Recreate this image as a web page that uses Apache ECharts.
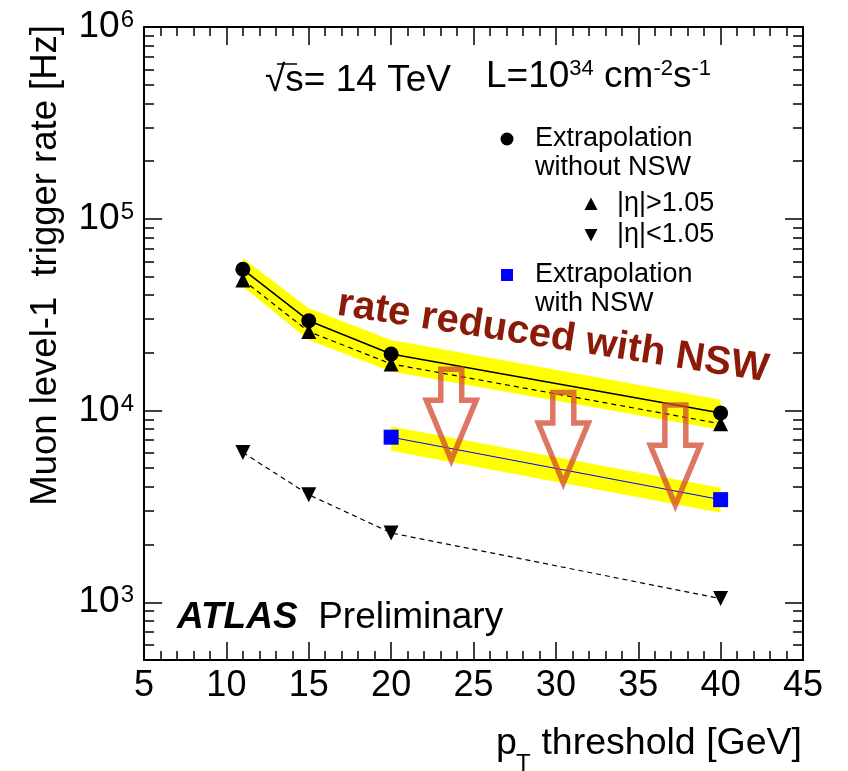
<!DOCTYPE html>
<html>
<head>
<meta charset="utf-8">
<script src="https://cdn.jsdelivr.net/npm/echarts@6/dist/echarts.min.js"></script>
<style>
  html, body { margin: 0; padding: 0; background: #fff; }
  #chart { width: 848px; height: 771px; }
</style>
</head>
<body>
<div id="chart"></div>
<script>
// pT thresholds [GeV]
const ptOld = [11, 15, 20, 40];
const ptNSW = [20, 40];
// L1 muon trigger rates [Hz]
const rateNoNSW = [54500, 29400, 19700, 9700];   // extrapolation without NSW
const rateFwd = [48000, 25800, 17500, 8530];     // |eta| > 1.05
const rateBarrel = [6040, 3640, 2300, 1045];     // |eta| < 1.05
const rateNSW = [7260, 3430];                    // extrapolation with NSW
// yellow uncertainty bands
const bandOldHi = [62200, 34100, 23300, 11380];
const bandOldLo = [44300, 23300, 15960, 7940];
const bandNSWHi = [8260, 3950];
const bandNSWLo = [6160, 2930];
// the three "reduced" arrows: pT position, top and tip of arrow
const arrowPt = [23.65, 30.45, 37.25];
const arrowTop = [16900, 12800, 11000];
const arrowTip = [5250, 3990, 3060];

const majorY = [1e3, 1e4, 1e5, 1e6];
const minorY = [600, 700, 800, 900, 2e3, 3e3, 4e3, 5e3, 6e3, 7e3, 8e3, 9e3,
  2e4, 3e4, 4e4, 5e4, 6e4, 7e4, 8e4, 9e4, 2e5, 3e5, 4e5, 5e5, 6e5, 7e5, 8e5, 9e5];

const FONT = '"Liberation Sans", Arial, Helvetica, sans-serif';

const chart = echarts.init(document.getElementById('chart'));

function bandSeries(xs, hi, lo) {
  return {
    type: 'custom',
    z: 1,
    silent: true,
    data: [[xs[0], hi[0]]],
    renderItem: function (params, api) {
      const pts = [];
      xs.forEach((x, i) => pts.push(api.coord([x, hi[i]])));
      for (let i = xs.length - 1; i >= 0; i--) pts.push(api.coord([xs[i], lo[i]]));
      return { type: 'polygon', shape: { points: pts }, style: { fill: '#ffff00' } };
    }
  };
}

function xAxisCfg(pos, labels) {
  return {
    type: 'value', min: 5, max: 45, interval: 5, position: pos,
    axisLine: { show: true, onZero: false, lineStyle: { color: '#000', width: 2 } },
    axisTick: { show: true, inside: true, length: 18, lineStyle: { color: '#000', width: 1.5 } },
    minorTick: { show: true, splitNumber: 5, length: 9, lineStyle: { color: '#000', width: 1.5 } },
    splitLine: { show: false },
    axisLabel: { show: labels, fontSize: 36, color: '#000', fontFamily: FONT, margin: 8 }
  };
}

function yAxisCfg(pos, ticks, len, labels) {
  return {
    type: 'log', logBase: 10, min: 500, max: 1e6, position: pos,
    axisLine: { show: true, onZero: false, lineStyle: { color: '#000', width: 2 } },
    axisTick: { show: true, inside: true, length: len, customValues: ticks,
      lineStyle: { color: '#000', width: 1.5 } },
    splitLine: { show: false },
    axisLabel: {
      show: labels, customValues: ticks, margin: 10, color: '#000',
      formatter: v => '{m|10}{e|' + Math.round(Math.log10(v)) + '}',
      rich: {
        m: { fontSize: 37, fontFamily: FONT, color: '#000' },
        e: { fontSize: 24, fontFamily: FONT, color: '#000', verticalAlign: 'top', padding: [0, 0, 0, 1] }
      }
    }
  };
}

chart.setOption({
  animation: false,
  backgroundColor: '#fff',
  textStyle: { fontFamily: FONT },
  grid: { left: 144, right: 45, top: 27, bottom: 111, containLabel: false, outerBoundsMode: 'none' },
  xAxis: [xAxisCfg('bottom', true), xAxisCfg('top', false)],
  yAxis: [
    yAxisCfg('left', majorY, 18, true),
    yAxisCfg('left', minorY, 10, false),
    yAxisCfg('right', majorY, 18, false),
    yAxisCfg('right', minorY, 10, false)
  ],
  series: [
    bandSeries(ptOld, bandOldHi, bandOldLo),
    bandSeries(ptNSW, bandNSWHi, bandNSWLo),
    {
      name: '|η|<1.05', type: 'line', z: 3,
      data: ptOld.map((x, i) => [x, rateBarrel[i]]),
      symbol: 'triangle', symbolRotate: 180, symbolSize: 15,
      itemStyle: { color: '#000' },
      lineStyle: { color: '#000', width: 1.2, type: [5, 4] }
    },
    {
      name: '|η|>1.05', type: 'line', z: 3,
      data: ptOld.map((x, i) => [x, rateFwd[i]]),
      symbol: 'triangle', symbolSize: 15,
      itemStyle: { color: '#000' },
      lineStyle: { color: '#000', width: 1.2, type: [5, 4] }
    },
    {
      name: 'Extrapolation without NSW', type: 'line', z: 4,
      data: ptOld.map((x, i) => [x, rateNoNSW[i]]),
      symbol: 'circle', symbolSize: 15,
      itemStyle: { color: '#000' },
      lineStyle: { color: '#000', width: 1.5 }
    },
    {
      name: 'Extrapolation with NSW', type: 'line', z: 4,
      data: ptNSW.map((x, i) => [x, rateNSW[i]]),
      symbol: 'rect', symbolSize: 15,
      itemStyle: { color: '#0000ff' },
      lineStyle: { color: '#0000ff', width: 1 }
    },
    {
      type: 'custom', z: 6, silent: true,
      data: arrowPt.map((x, i) => [x, arrowTop[i], arrowTip[i]]),
      renderItem: function (params, api) {
        const top = api.coord([api.value(0), api.value(1)]);
        const tip = api.coord([api.value(0), api.value(2)]);
        const x = top[0], y0 = top[1] + 2.5, y1 = tip[1] - 4;
        const hy = y1 - 60, sw = 10.5, hw = 25;
        return {
          type: 'polygon',
          shape: { points: [[x - sw, y0], [x + sw, y0], [x + sw, hy], [x + hw, hy], [x, y1], [x - hw, hy], [x - sw, hy]] },
          style: { fill: 'none', stroke: 'rgba(210,72,45,0.75)', lineWidth: 5.5, lineJoin: 'miter' }
        };
      }
    }
  ],
  graphic: [
    // axis titles
    { type: 'text', x: 46, y: 25, rotation: Math.PI / 2,
      style: { text: 'Muon level-1  trigger rate [Hz]', font: '36.5px ' + FONT, fill: '#000',
        align: 'right', verticalAlign: 'middle' } },
    { type: 'text', x: 802, y: 763,
      style: { text: 'threshold [GeV]', font: '37.5px ' + FONT, fill: '#000',
        align: 'right', verticalAlign: 'bottom' } },
    { type: 'text', x: 496, y: 763,
      style: { text: 'p', font: '37.5px ' + FONT, fill: '#000', align: 'left', verticalAlign: 'bottom' } },
    { type: 'text', x: 516, y: 776,
      style: { text: 'T', font: '24px ' + FONT, fill: '#000', align: 'left', verticalAlign: 'bottom' } },
    // energy / luminosity
    { type: 'text', left: 265, top: 62,
      style: { text: '√s= 14 TeV', font: '37px ' + FONT, fill: '#000' } },
    { type: 'line', shape: { x1: 277, y1: 64, x2: 297, y2: 64 }, style: { stroke: '#000', lineWidth: 1.5 } },
    { type: 'text', left: 486, top: 58,
      style: {
        text: '{n|L=10}{s|34}{n| cm}{s|-2}{n|s}{s|-1}',
        rich: {
          n: { fontSize: 37, fontFamily: FONT, fill: '#000' },
          s: { fontSize: 22, fontFamily: FONT, fill: '#000', verticalAlign: 'top' }
        }
      } },
    // legend
    { type: 'circle', shape: { cx: 507, cy: 139, r: 6.5 }, style: { fill: '#000' } },
    { type: 'text', left: 535, top: 124,
      style: { text: 'Extrapolation\nwithout NSW', font: '27px ' + FONT, fill: '#000', lineHeight: 29 } },
    { type: 'polygon', shape: { points: [[591, 197.5], [597.5, 210], [584.5, 210]] }, style: { fill: '#000' } },
    { type: 'text', left: 617, top: 189,
      style: { text: '|η|>1.05', font: '27px ' + FONT, fill: '#000', lineHeight: 29 } },
    { type: 'polygon', shape: { points: [[584.5, 229], [597.5, 229], [591, 241.5]] }, style: { fill: '#000' } },
    { type: 'text', left: 617, top: 220,
      style: { text: '|η|<1.05', font: '27px ' + FONT, fill: '#000', lineHeight: 29 } },
    { type: 'rect', shape: { x: 501, y: 269, width: 12, height: 12 }, style: { fill: '#0000ff' } },
    { type: 'text', left: 535, top: 260,
      style: { text: 'Extrapolation\nwith NSW', font: '27px ' + FONT, fill: '#000', lineHeight: 29 } },
    // annotation
    { type: 'text', x: 553, y: 337, rotation: -0.154, z: 10,
      style: { text: 'rate reduced with NSW', font: 'bold 40px ' + FONT, fill: '#8b1a08',
        align: 'center', verticalAlign: 'middle' } },
    { type: 'text', left: 177, top: 599,
      style: {
        text: '{b|ATLAS}{n|  Preliminary}',
        rich: {
          b: { fontSize: 37, fontFamily: FONT, fontWeight: 'bold', fontStyle: 'italic', fill: '#000' },
          n: { fontSize: 37, fontFamily: FONT, fill: '#000' }
        }
      } }
  ]
});
</script>
</body>
</html>
